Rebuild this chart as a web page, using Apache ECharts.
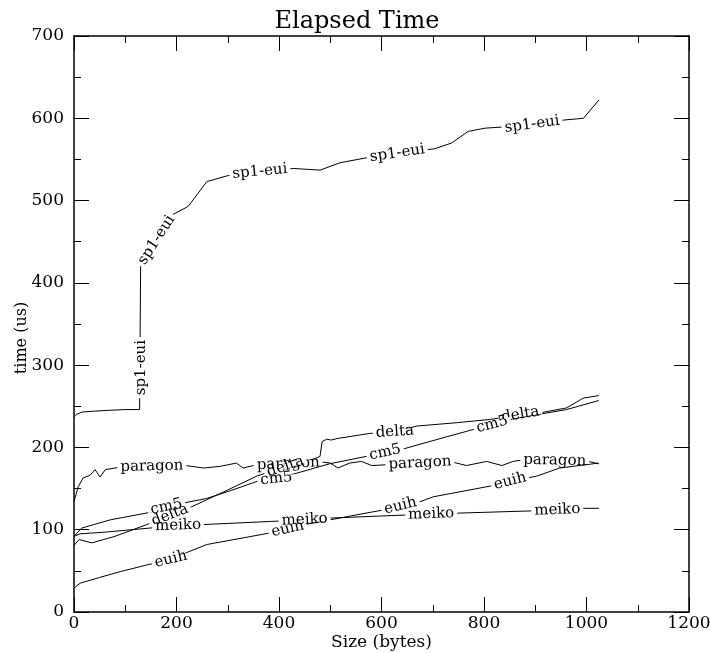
<!DOCTYPE html>
<html><head><meta charset="utf-8">
<script src="https://cdn.jsdelivr.net/npm/echarts@6/dist/echarts.min.js"></script>
<style>html,body{margin:0;padding:0;background:#fff}#c{width:710px;height:653px}</style>
</head><body><div id="c"></div>
<script>
const seriesNames = ['sp1-eui', 'paragon', 'delta', 'cm5', 'euih', 'meiko'];
const xTicks = [0, 200, 400, 600, 800, 1000, 1200];
const yTicks = [0, 100, 200, 300, 400, 500, 600, 700];

const sp1eui = [[0,237],[4,240],[16,243],[38,244],[64,245],[100,246],[128,246],[130,247],[130,422],[193,483],[223,493],[259,523],[298,530],[358,535],[428,539],[480,537],[519,546],[571,552],[637,558],[704,563],[737,570],[769,584],[802,588],[876,591],[958,598],[994,600],[1024,622]];
const paragon = [[0,134],[8,152],[18,163],[31,166],[41,173],[51,164],[61,173],[90,176],[150,177],[217,178],[253,175],[285,177],[317,181],[330,175],[350,178],[418,180],[474,183],[500,181],[515,175],[538,181],[561,183],[581,178],[675,181],[733,183],[766,178],[805,183],[835,178],[857,183],[877,185],[938,184],[997,184],[1024,180]];
const delta = [[0,81],[10,88],[35,84],[80,92],[141,106],[164,112],[230,128],[299,148],[356,165],[390,172],[428,180],[468,186],[480,189],[484,207],[493,210],[502,209],[515,211],[577,217],[626,219],[669,226],[746,230],[812,234],[871,240],[909,242],[961,248],[994,260],[1024,263]];
const cm5 = [[0,92],[15,102],[71,112],[148,121],[174,127],[210,132],[259,138],[308,148],[363,160],[395,162],[425,167],[498,180],[577,190],[607,194],[636,197],[716,211],[792,224],[816,228],[851,234],[905,240],[961,246],[1024,257]];
const euih = [[0,29],[12,35],[50,42],[90,49],[141,57],[189,64],[223,73],[259,82],[382,96],[417,101],[448,106],[603,124],[637,129],[675,134],[701,140],[812,153],[851,159],[902,165],[948,175],[1024,181]];
const meiko = [[0,92],[12,95],[60,97],[148,102],[200,105],[243,106],[382,110],[450,112],[493,114],[653,118],[697,119],[740,120],[900,123],[943,124],[987,126],[1024,126]];

// label anchors (data coords) along each line
const sp1euiLabels = [[130,297],[161,452],[363,533],[631,557],[894,592]];
const paragonLabels = [[152,177],[418,180],[675,181],[938,184]];
const deltaLabels = [[187,118],[414,174],[626,219],[871,240]];
const cm5Labels = [[181,126],[395,162],[607,194],[816,228]];
const euihLabels = [[189,64],[417,101],[637,129],[851,159]];
const meikoLabels = [[203,105],[450,112],[697,119],[943,124]];

const allData = [sp1eui, paragon, delta, cm5, euih, meiko];
const allLabels = [sp1euiLabels, paragonLabels, deltaLabels, cm5Labels, euihLabels, meikoLabels];

const FONT = '"DejaVu Serif", serif';
const LABEL_FONT = '15px ' + FONT;
const mctx = document.createElement('canvas').getContext('2d');
mctx.font = LABEL_FONT;
function textW(t) { return mctx.measureText(t).width; }

const labelItems = [];
allLabels.forEach((arr, s) => arr.forEach(p => labelItems.push([p[0], p[1], s])));

function renderLabel(params, api) {
  const s = api.value(2);
  const pt = api.coord([api.value(0), api.value(1)]);
  const pts = allData[s].map(p => api.coord(p));
  let best = null, bd = Infinity;
  for (let i = 0; i < pts.length - 1; i++) {
    const a = pts[i], b = pts[i + 1];
    const dx = b[0] - a[0], dy = b[1] - a[1];
    const L2 = dx * dx + dy * dy;
    if (!L2) continue;
    let t = ((pt[0] - a[0]) * dx + (pt[1] - a[1]) * dy) / L2;
    t = Math.max(0, Math.min(1, t));
    const px = a[0] + t * dx, py = a[1] + t * dy;
    const d = (px - pt[0]) ** 2 + (py - pt[1]) ** 2;
    if (d < bd) { bd = d; best = { px, py, dx, dy }; }
  }
  let ang = Math.atan2(-best.dy, best.dx);
  if (ang > Math.PI / 2 + 1e-6) ang -= Math.PI;
  if (ang < -Math.PI / 2 - 1e-6) ang += Math.PI;
  const name = seriesNames[s];
  const w = textW(name);
  return {
    type: 'group', x: best.px, y: best.py, rotation: ang,
    children: [
      { type: 'rect', shape: { x: -w / 2 - 3, y: -2.5, width: w + 6, height: 5 }, style: { fill: '#fff' } },
      { type: 'text', style: { text: name, x: 0, y: 0, align: 'center', verticalAlign: 'middle', font: LABEL_FONT, fill: '#000' } }
    ]
  };
}

function axisCommon() {
  return {
    nameMoveOverlap: false,
    axisLine: { show: true, onZero: false, lineStyle: { color: '#000', width: 1.5 } },
    axisTick: { show: true, inside: true, length: 15, lineStyle: { color: '#000', width: 1 } },
    minorTick: { show: true, splitNumber: 2, length: 7, lineStyle: { color: '#000', width: 1 } },
    splitLine: { show: false },
    minorSplitLine: { show: false }
  };
}

const chart = echarts.init(document.getElementById('c'), null, { renderer: 'canvas' });
chart.setOption({
  animation: false,
  backgroundColor: '#fff',
  title: {
    text: 'Elapsed Time', left: 352, textAlign: 'center', top: 5,
    textStyle: { fontFamily: FONT, fontSize: 24, fontWeight: 'normal', color: '#000' }
  },
  grid: { left: 74, right: 21, top: 36, bottom: 41, containLabel: false, outerBoundsMode: 'none' },
  xAxis: [
    Object.assign({
      type: 'value', min: xTicks[0], max: xTicks[xTicks.length - 1], interval: 200, position: 'bottom',
      name: 'Size (bytes)', nameLocation: 'middle', nameGap: 22,
      nameTextStyle: { fontFamily: FONT, fontSize: 17, color: '#000' },
      axisLabel: { fontFamily: FONT, fontSize: 17, color: '#000', margin: 3, formatter: v => String(v) }
    }, axisCommon()),
    Object.assign({
      type: 'value', min: xTicks[0], max: xTicks[xTicks.length - 1], interval: 200, position: 'top',
      axisLabel: { show: false }
    }, axisCommon())
  ],
  yAxis: [
    Object.assign({
      type: 'value', min: yTicks[0], max: yTicks[yTicks.length - 1], interval: 100, position: 'left',
      name: 'time (us)', nameLocation: 'middle', nameGap: 44,
      nameTextStyle: { fontFamily: FONT, fontSize: 16, color: '#000', padding: [0, 28, 0, 0] },
      axisLabel: { fontFamily: FONT, fontSize: 17, color: '#000', margin: 10, formatter: v => String(v) }
    }, axisCommon()),
    Object.assign({
      type: 'value', min: yTicks[0], max: yTicks[yTicks.length - 1], interval: 100, position: 'right',
      axisLabel: { show: false }
    }, axisCommon())
  ],
  series: allData.map((d, i) => ({
    type: 'line', name: seriesNames[i], data: d, showSymbol: false, symbol: 'none',
    lineStyle: { color: '#000', width: 1 }, z: 2, silent: true
  })).concat([{
    type: 'custom', coordinateSystem: 'cartesian2d', data: labelItems,
    encode: { x: 0, y: 1 }, renderItem: renderLabel, z: 5, silent: true, clip: false
  }])
});
</script></body></html>
